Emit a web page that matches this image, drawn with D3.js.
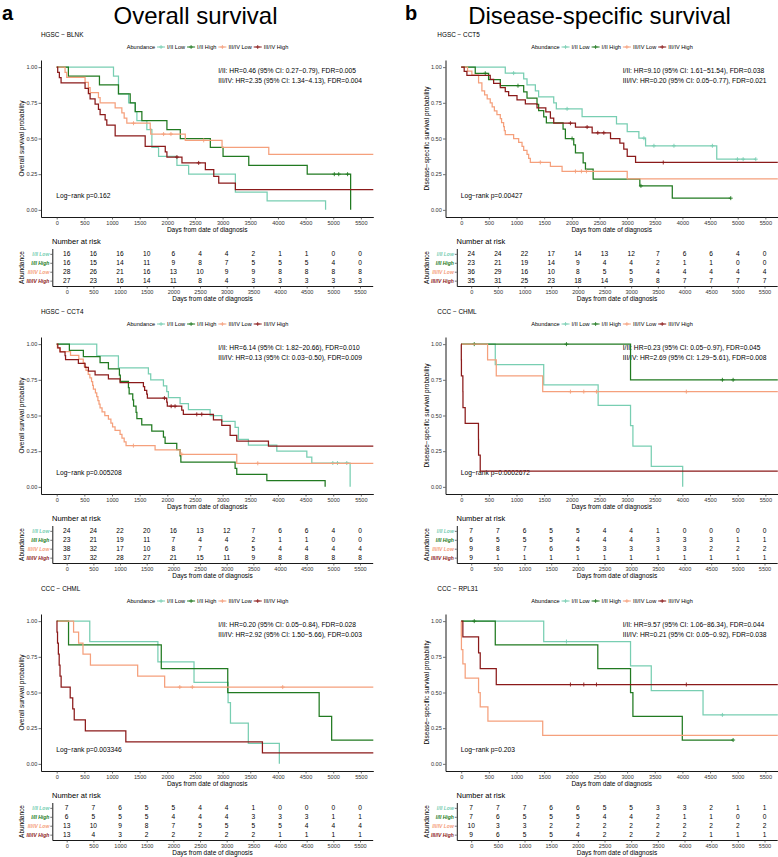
<!DOCTYPE html>
<html>
<head>
<meta charset="utf-8">
<script src="https://d3js.org/d3.v7.min.js"></script>
<style>
  body { margin:0; background:#fff; }
  text { font-family: "Liberation Sans", Arial, Helvetica, sans-serif; }
</style>
</head>
<body>
<script>
// ---- shared
var groups = ["I/II Low", "I/II High", "III/IV Low", "III/IV High"];
var colors = ["#78ceb2", "#217a21", "#f5a07c", "#8b1a1a"];
var timeTicks = [0, 500, 1000, 1500, 2000, 2500, 3000, 3500, 4000, 4500, 5000, 5500];
var probTicks = [0, 0.25, 0.5, 0.75, 1];

// ---- a: Overall survival, HGSC - BLNK   (steps = [day, survival after drop])
var osBlnkSteps = [
  [[1027,0.9375],[1117,0.8125],[1300,0.75],[1420,0.6875],[1450,0.625],[1630,0.5625],[1721,0.4375],[1842,0.375],[2174,0.3125],[2386,0.25],[3231,0.125],[3805,0.0625],[4862,0]],
  [[211,0.9375],[773,0.875],[1117,0.8125],[1329,0.75],[1420,0.6875],[1540,0.625],[1993,0.5625],[2235,0.5],[2778,0.4375],[3008,0.375],[3473,0.3125],[4530,0.25],[5315,0]],
  [[151,0.964],[181,0.929],[513,0.893],[573,0.857],[604,0.821],[755,0.786],[785,0.75],[1057,0.714],[1178,0.679],[1220,0.643],[1268,0.607],[1691,0.569],[1700,0.531],[2325,0.487],[2990,0.438],[3835,0.389]],
  [[18,0.963],[48,0.926],[79,0.889],[513,0.852],[573,0.815],[604,0.778],[694,0.741],[755,0.704],[785,0.667],[876,0.630],[906,0.593],[1057,0.519],[1600,0.444],[1963,0.407],[1993,0.370],[2265,0.329],[2688,0.282],[2840,0.235],[2930,0.188],[3231,0.141]]
];
var osBlnkCensor = [[], [5020,5100,5260], [1389,1933,2066,2658], [2174,2567]];
var osBlnkEnd = [4862, 5315, 5800, 5800];
var osBlnkRisk = [
  [16,16,16,10,6,4,4,2,1,1,0,0],
  [16,15,14,11,9,8,7,5,5,5,4,0],
  [28,26,21,16,13,10,9,9,8,8,8,8],
  [27,23,16,14,11,8,4,3,3,3,3,3]
];

// ---- a: Overall survival, HGSC - CCT4
var osCct4Steps = [
  [[724,0.917],[1116,0.833],[1658,0.792],[1700,0.75],[1930,0.708],[1990,0.667],[2020,0.625],[2231,0.583],[2382,0.542],[2774,0.5],[2985,0.458],[3226,0.417],[3286,0.333],[3467,0.292],[3980,0.25],[4523,0.208],[4613,0.167],[5306,0]],
  [[229,0.957],[482,0.913],[784,0.870],[935,0.826],[1134,0.783],[1150,0.739],[1297,0.696],[1310,0.652],[1375,0.609],[1390,0.565],[1435,0.522],[1450,0.478],[1538,0.435],[1719,0.391],[1930,0.348],[1960,0.304],[2171,0.261],[2231,0.217],[2245,0.174],[3226,0.130],[3256,0.087],[3800,0.043],[4854,0]],
  [[12,0.974],[60,0.947],[250,0.921],[400,0.895],[480,0.868],[500,0.842],[530,0.816],[570,0.789],[600,0.763],[630,0.737],[650,0.711],[663,0.684],[700,0.658],[724,0.632],[745,0.605],[765,0.579],[784,0.553],[820,0.526],[870,0.5],[935,0.474],[980,0.447],[1010,0.421],[1055,0.395],[1146,0.368],[1180,0.342],[1220,0.316],[1254,0.289],[1779,0.260],[2231,0.228],[3256,0.165]],
  [[20,0.973],[60,0.946],[151,0.919],[160,0.892],[392,0.865],[513,0.838],[573,0.811],[694,0.784],[935,0.757],[1146,0.730],[1568,0.703],[1590,0.676],[1628,0.649],[1640,0.622],[1990,0.593],[2000,0.565],[2261,0.537],[2290,0.508],[2834,0.47],[2985,0.43],[3136,0.36],[3256,0.32],[3829,0.285]]
];
var osCct4Censor = [[4993,5077,5246], [], [1387,2261,3636], [1948,2070,2140,2533,2623]];
var osCct4End = [5306, 4854, 5800, 5800];
var osCct4Risk = [
  [24,24,22,20,16,13,12,7,6,6,4,0],
  [23,21,19,11,7,4,4,2,1,1,0,0],
  [38,32,17,10,8,7,6,5,4,4,4,4],
  [37,32,28,27,21,15,11,9,8,8,8,8]
];

// ---- a: Overall survival, CCC - CHML
var osChmlSteps = [
  [[598,0.857],[1830,0.714],[2483,0.571],[3099,0.429],[3142,0.286],[3465,0.143],[4026,0]],
  [[214,0.833],[1891,0.667],[3093,0.5],[4746,0.333],[4972,0.167]],
  [[305,0.923],[396,0.846],[475,0.769],[610,0.692],[1464,0.615],[1952,0.538]],
  [[5,0.923],[15,0.846],[30,0.769],[45,0.692],[60,0.615],[80,0.538],[244,0.462],[290,0.385],[317,0.308],[518,0.231],[1250,0.154],[3720,0.077]]
];
var osChmlCensor = [[], [], [2226,2452,4087], []];
var osChmlEnd = [4026, 5800, 5800, 5800];
var osChmlRisk = [
  [7,7,6,5,5,4,4,1,0,0,0,0],
  [6,5,5,5,4,4,4,3,3,3,1,1],
  [13,10,9,8,7,5,5,5,5,4,4,4],
  [13,4,3,2,2,2,2,2,1,1,1,1]
];

// ---- b: Disease-specific survival, HGSC - CCT5
var dssCct5Steps = [
  [[797,0.958],[1130,0.917],[1190,0.875],[1341,0.833],[1400,0.792],[1673,0.75],[1720,0.708],[2186,0.654],[2808,0.603],[3002,0.549],[3213,0.502],[3334,0.449],[4621,0.355]],
  [[254,0.957],[495,0.913],[707,0.87],[1130,0.826],[1190,0.783],[1371,0.739],[1400,0.696],[1492,0.652],[1540,0.609],[1842,0.565],[1884,0.5],[2035,0.455],[2066,0.4],[2205,0.33],[2247,0.285],[2386,0.215],[3230,0.168],[3817,0.082]],
  [[115,0.972],[193,0.944],[314,0.889],[374,0.833],[423,0.806],[470,0.778],[525,0.75],[560,0.722],[600,0.694],[646,0.667],[707,0.639],[730,0.611],[767,0.583],[780,0.556],[797,0.528],[948,0.5],[1039,0.472],[1100,0.444],[1130,0.417],[1190,0.389],[1220,0.361],[1250,0.333],[1613,0.304],[1824,0.27],[3002,0.217]],
  [[54,0.971],[103,0.943],[525,0.914],[586,0.886],[707,0.857],[797,0.829],[858,0.8],[1009,0.771],[1160,0.743],[1371,0.714],[1530,0.686],[1613,0.643],[1673,0.607],[2066,0.58],[2368,0.54],[2700,0.5],[2869,0.467],[2940,0.425],[3002,0.374],[3153,0.332]]
];
var dssCct5Censor = [[948,1915,3304,3485,3847,4542,4995,5098,5327], [435,1027,2005,3250,4874], [1431,2066,2174,2265], [1975,2277,2470,2579,3654]];
var dssCct5End = [5327, 4874, 5800, 5800];
var dssCct5Risk = [
  [24,24,22,17,14,13,12,7,6,6,4,0],
  [23,21,19,14,9,4,4,2,1,1,0,0],
  [36,29,16,10,8,5,5,4,4,4,4,4],
  [35,31,25,23,18,14,9,8,7,7,7,7]
];

// ---- b: Disease-specific survival, CCC - CHML
var dssChmlSteps = [
  [[616,0.857],[1492,0.714],[2476,0.571],[3062,0.429],[3105,0.286],[3437,0.143],[4005,0]],
  [[3062,0.75]],
  [[477,0.889],[634,0.778],[1474,0.667]],
  [[2,0.889],[4,0.778],[30,0.667],[32,0.556],[72,0.444],[312,0.333],[314,0.222],[344,0.111]]
];
var dssChmlCensor = [[], [236,1903,4723,4917], [1975,2217,2446,4071], []];
var dssChmlEnd = [4005, 5800, 5800, 5800];
var dssChmlRisk = [
  [7,7,6,5,5,4,4,1,0,0,0,0],
  [6,5,5,5,4,4,4,3,3,3,1,1],
  [9,8,7,6,5,3,3,3,3,2,2,2],
  [9,1,1,1,1,1,1,1,1,1,1,1]
];

// ---- b: Disease-specific survival, CCC - RPL31
var dssRplSteps = [
  [[1492,0.857],[3062,0.686],[3437,0.514],[4373,0.343]],
  [[616,0.833],[2470,0.667],[3062,0.5],[3105,0.333],[3998,0.167]],
  [[2,0.9],[4,0.8],[30,0.7],[72,0.6],[314,0.5],[344,0.4],[483,0.3],[1474,0.2]],
  [[30,0.889],[314,0.778],[344,0.667],[634,0.556]]
];
var dssRplCensor = [[1903,4723], [236,4917], [], [1975,2217,2446,4071]];
var dssRplEnd = [5800, 4917, 5800, 5800];
var dssRplRisk = [
  [7,7,7,6,6,5,5,3,3,2,1,1],
  [7,6,5,5,5,4,4,2,1,1,0,0],
  [10,3,3,2,2,2,2,2,2,2,2,2],
  [9,6,5,5,4,2,2,2,2,1,1,1]
];

// ---- annotations
var panelTitles = ["HGSC − BLNK", "HGSC − CCT4", "CCC − CHML", "HGSC − CCT5", "CCC − CHML", "CCC − RPL31"];
var hrLow = [
  "I/II: HR=0.46 (95% CI: 0.27−0.79), FDR=0.005",
  "I/II: HR=6.14 (95% CI: 1.82−20.66), FDR=0.010",
  "I/II: HR=0.20 (95% CI: 0.05−0.84), FDR=0.028",
  "I/II: HR=9.10 (95% CI: 1.61−51.54), FDR=0.038",
  "I/II: HR=0.23 (95% CI: 0.05−0.97), FDR=0.045",
  "I/II: HR=9.57 (95% CI: 1.06−86.34), FDR=0.044"
];
var hrHigh = [
  "III/IV: HR=2.35 (95% CI: 1.34−4.13), FDR=0.004",
  "III/IV: HR=0.13 (95% CI: 0.03−0.50), FDR=0.009",
  "III/IV: HR=2.92 (95% CI: 1.50−5.66), FDR=0.003",
  "III/IV: HR=0.20 (95% CI: 0.05−0.77), FDR=0.021",
  "III/IV: HR=2.69 (95% CI: 1.29−5.61), FDR=0.008",
  "III/IV: HR=0.21 (95% CI: 0.05−0.92), FDR=0.038"
];
var logrankP = ["0.162", "0.005208", "0.003346", "0.00427", "0.0002672", "0.203"];

var panels = [
  {col:0, row:0, steps:osBlnkSteps, censor:osBlnkCensor, end:osBlnkEnd, risk:osBlnkRisk},
  {col:0, row:1, steps:osCct4Steps, censor:osCct4Censor, end:osCct4End, risk:osCct4Risk},
  {col:0, row:2, steps:osChmlSteps, censor:osChmlCensor, end:osChmlEnd, risk:osChmlRisk},
  {col:1, row:0, steps:dssCct5Steps, censor:dssCct5Censor, end:dssCct5End, risk:dssCct5Risk},
  {col:1, row:1, steps:dssChmlSteps, censor:dssChmlCensor, end:dssChmlEnd, risk:dssChmlRisk},
  {col:1, row:2, steps:dssRplSteps, censor:dssRplCensor, end:dssRplEnd, risk:dssRplRisk}
];

var svg = d3.select("body").append("svg")
  .attr("width", 778)
  .attr("height", 857);

svg.append("text").attr("x", 2).attr("y", 19.5)
  .attr("font-size", 20).attr("font-weight", "bold").text("a");
svg.append("text").attr("x", 405).attr("y", 19.5)
  .attr("font-size", 20).attr("font-weight", "bold").text("b");
svg.append("text").attr("x", 195.5).attr("y", 23.5).attr("text-anchor", "middle")
  .attr("font-size", 24).text("Overall survival");
svg.append("text").attr("x", 599.5).attr("y", 23.5).attr("text-anchor", "middle")
  .attr("font-size", 24).text("Disease-specific survival");

function styleAxis(g, fs) {
  g.attr("font-family", null).attr("font-size", null);
  g.select(".domain").attr("stroke", "#000").attr("stroke-width", 0.9);
  g.selectAll(".tick line").attr("stroke", "#333").attr("stroke-width", 0.7);
  g.selectAll(".tick text").attr("font-size", fs).attr("fill", "#333");
}

function survAt(steps, t) {
  var s = 1;
  steps.forEach(function(d) { if (d[0] <= t) s = d[1]; });
  return s;
}

panels.forEach(function(p, k) {
  var ox = p.col * 404.5, oy = p.row * 277;
  var g = svg.append("g").attr("transform", "translate(" + ox + "," + oy + ")");

  g.append("text").attr("x", p.col ? 32.8 : 41).attr("y", 36.5)
    .attr("font-size", 6.4).text(panelTitles[k]);

  // legend
  var leg = g.append("g");
  var lx = 0;
  var t0 = leg.append("text").attr("x", 0).attr("y", 49).attr("font-size", 5.6).text("Abundance");
  lx = t0.node().getComputedTextLength() + 2;
  groups.forEach(function(name, i) {
    leg.append("line").attr("x1", lx).attr("x2", lx + 8).attr("y1", 47).attr("y2", 47)
      .attr("stroke", colors[i]).attr("stroke-width", 1);
    leg.append("path").attr("d", "M" + (lx + 2) + ",47h4M" + (lx + 4) + ",45v4")
      .attr("stroke", colors[i]).attr("stroke-width", 0.8);
    lx += 10;
    var tt = leg.append("text").attr("x", lx).attr("y", 49).attr("font-size", 5.6).text(name);
    lx += tt.node().getComputedTextLength() + 2;
  });
  leg.attr("transform", "translate(" + (208.5 - lx / 2) + ",0)");

  // survival plot
  var x = d3.scaleLinear().domain([-284, 5725]).range([41, 373.3]);
  var y = d3.scaleLinear().domain([-0.05, 1.05]).range([217, 60]);

  g.append("g").attr("transform", "translate(0,217)")
    .call(d3.axisBottom(x).tickValues(timeTicks).tickFormat(d3.format("d")).tickSize(2.5).tickPadding(1.2).tickSizeOuter(0))
    .call(styleAxis, 5.6);
  g.append("g").attr("transform", "translate(41,0)")
    .call(d3.axisLeft(y).tickValues(probTicks).tickFormat(d3.format(".2f")).tickSize(2.5).tickPadding(1.2).tickSizeOuter(0))
    .call(styleAxis, 5.6);

  g.append("text").attr("x", 207.2).attr("y", 232.3).attr("text-anchor", "middle")
    .attr("font-size", 6.5).text("Days from date of diagnosis");
  g.append("text").attr("transform", "translate(24,138.5) rotate(-90)").attr("text-anchor", "middle")
    .attr("font-size", 6.5).text(p.col ? "Disease−specific survival probability" : "Overall survival probability");

  g.append("text").attr("x", x(2920)).attr("y", y(0.958)).attr("font-size", 6.7).text(hrLow[k]);
  g.append("text").attr("x", x(2920)).attr("y", y(0.892)).attr("font-size", 6.7).text(hrHigh[k]);
  g.append("text").attr("x", x(0) - 0.5).attr("y", y(0.082)).attr("font-size", 6.7).text("Log−rank p=" + logrankP[k]);

  var line = d3.line().x(function(d) { return x(d[0]); }).y(function(d) { return y(d[1]); })
    .curve(d3.curveStepAfter);

  p.steps.forEach(function(st, i) {
    var last = st.length ? st[st.length - 1][1] : 1;
    var pts = [[0, 1]].concat(st).concat([[Math.min(p.end[i], 5725), last]]);
    g.append("path").attr("d", line(pts)).attr("fill", "none")
      .attr("stroke", colors[i]).attr("stroke-width", 1.25);
    p.censor[i].forEach(function(t) {
      var cx = x(t), cy = y(survAt(st, t));
      g.append("path").attr("d", "M" + (cx - 2) + "," + cy + "h4M" + cx + "," + (cy - 2) + "v4")
        .attr("stroke", colors[i]).attr("stroke-width", 0.9);
    });
  });

  // number at risk table
  g.append("text").attr("x", 52).attr("y", 244.2).attr("font-size", 7.5).text("Number at risk");
  var xt = d3.scaleLinear().domain([-270, 5738]).range([52.3, 372.7]);
  var yt = d3.scalePoint().domain(groups).range([248.5, 286]).padding(0.6);

  g.append("g").attr("transform", "translate(0,286)")
    .call(d3.axisBottom(xt).tickValues(timeTicks).tickFormat(d3.format("d")).tickSize(2.5).tickPadding(1.2).tickSizeOuter(0))
    .call(styleAxis, 5.6);
  var ya = g.append("g").attr("transform", "translate(52.3,0)")
    .call(d3.axisLeft(yt).tickSize(2).tickPadding(1).tickSizeOuter(0))
    .call(styleAxis, 5);
  ya.selectAll(".tick text").attr("font-weight", "bold").attr("font-style", "italic")
    .attr("fill", function(d, i) { return colors[i]; });

  g.append("text").attr("x", 212.5).attr("y", 301.3).attr("text-anchor", "middle")
    .attr("font-size", 6.5).text("Days from date of diagnosis");
  g.append("text").attr("transform", "translate(24,267.5) rotate(-90)").attr("text-anchor", "middle")
    .attr("font-size", 6.5).text("Abundance");

  p.risk.forEach(function(row, i) {
    row.forEach(function(v, j) {
      g.append("text").attr("x", xt(timeTicks[j])).attr("y", yt(groups[i])).attr("dy", "0.35em")
        .attr("text-anchor", "middle").attr("font-size", 6.6).text(v);
    });
  });
});
</script>
</body>
</html>
